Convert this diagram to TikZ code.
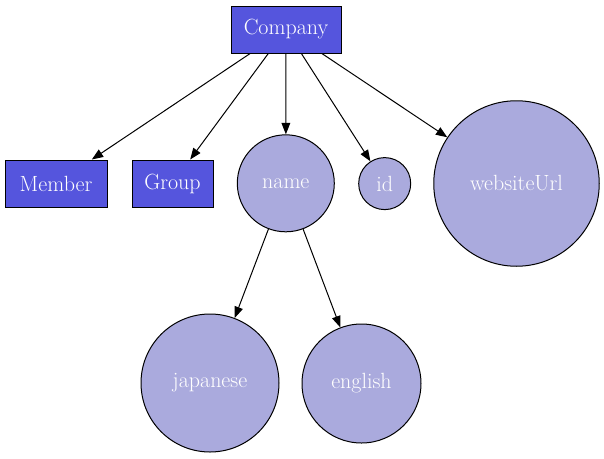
\documentclass[tikz,border=0pt]{standalone}
\usepackage{tikz}
\usetikzlibrary{arrows.meta}
\usepackage{xcolor}
\definecolor{boxblue}{RGB}{85,85,221}
\definecolor{leaf}{RGB}{170,170,221}

\begin{document}
\begin{tikzpicture}[
  x=0.75pt, y=-0.75pt,
  every node/.style={font=\fontsize{16.5}{19}\selectfont, text=white},
  entity/.style={draw=black, fill=boxblue, line width=0.75pt,
               minimum height=47*0.75pt, inner sep=0pt},
  field/.style={draw=black, fill=leaf, circle, line width=0.75pt, inner sep=0pt},
  >={Triangle[length=8.5pt, width=6.5pt]}
]
\useasboundingbox (0,0) rectangle (604,458);

\node[entity, minimum width=110*0.75pt] (company) at (286, 29.5) {Company};

\node[entity, minimum width=102*0.75pt] (member) at (56, 183.5) {Member};
\node[entity, minimum width=81*0.75pt] (group) at (172.5, 183.5) {Group};
\node[field, minimum size=97*0.75pt] (name) at (285.8, 183.3) {name};
\node[field, minimum size=52*0.75pt] (id) at (384.7, 183.6) {id};
\node[field, minimum size=165.5*0.75pt] (websiteurl) at (516.5, 183.5) {websiteUrl};

\node[field, minimum size=138*0.75pt] (japanese) at (210, 383) {japanese};
\node[field, minimum size=119*0.75pt] (english) at (361.5, 383.5) {english};

\draw[->, line width=0.75pt] (company) -- (member);
\draw[->, line width=0.75pt] (company) -- (group);
\draw[->, line width=0.75pt] (company) -- (name);
\draw[->, line width=0.75pt] (company) -- (id);
\draw[->, line width=0.75pt] (company) -- (websiteurl);

\draw[->, line width=0.75pt] (name) -- (japanese);
\draw[->, line width=0.75pt] (name) -- (english);

\end{tikzpicture}
\end{document}
